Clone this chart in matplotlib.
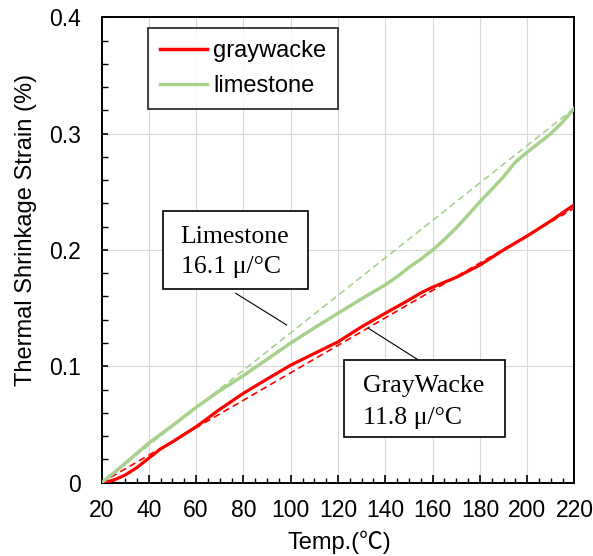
import matplotlib
matplotlib.use("Agg")
import matplotlib.pyplot as plt
from matplotlib.patches import Rectangle
from matplotlib.ticker import MultipleLocator

# ---- data ----
temp_gray = [20, 25, 30, 35, 40, 45, 50, 60, 70, 80, 90, 100, 110, 120, 130, 140,
             150, 155, 160, 170, 180, 190, 200, 210, 220]
strain_gray = [0, 0.002, 0.0065, 0.013, 0.021, 0.029, 0.035, 0.048, 0.063, 0.0768,
               0.089, 0.101, 0.111, 0.121, 0.134, 0.1456, 0.157, 0.163, 0.168,
               0.1765, 0.187, 0.200, 0.212, 0.225, 0.239]

temp_lime = [20, 25, 30, 40, 50, 60, 70, 80, 90, 100, 110, 120, 130, 140, 145, 150,
             155, 160, 165, 170, 175, 180, 185, 190, 195, 200, 205, 210, 215, 220]
strain_lime = [0, 0.008, 0.0166, 0.034, 0.049, 0.0647, 0.079, 0.092, 0.106, 0.120,
               0.133, 0.1456, 0.158, 0.170, 0.177, 0.185, 0.192, 0.200, 0.209,
               0.219, 0.230, 0.2415, 0.252, 0.263, 0.2755, 0.284, 0.292, 0.300,
               0.310, 0.322]

fit_temp = [20, 220]
fit_gray = [0, 0.236]
fit_lime = [0, 0.322]

series_labels = ["graywacke", "limestone"]
x_ticks = [20, 40, 60, 80, 100, 120, 140, 160, 180, 200, 220]
y_ticks = [0, 0.1, 0.2, 0.3, 0.4]
y_ticklabels = ["0", "0.1", "0.2", "0.3", "0.4"]

RED = "#FF0000"
GREEN = "#A9D18E"
SANS = ["Liberation Sans", "DejaVu Sans"]
SERIF = ["Liberation Serif", "DejaVu Serif"]

plt.rcParams["font.family"] = SANS

fig = plt.figure(figsize=(5.93, 5.56), dpi=100)
ax = fig.add_axes([0.1712, 0.132, 0.7976, 0.8369])

ax.set_xlim(20, 220)
ax.set_ylim(0, 0.4)

ax.grid(True, which="major", color="#D9D9D9", linewidth=0.8, zorder=0)
ax.set_axisbelow(True)

ax.plot(fit_temp, fit_gray, color=RED, linewidth=1.2, dashes=(4, 2.5), zorder=3)
ax.plot(fit_temp, fit_lime, color=GREEN, linewidth=1.2, dashes=(4, 2.5), zorder=3)
l1, = ax.plot(temp_gray, strain_gray, color=RED, linewidth=2.3, label=series_labels[0], zorder=4)
l2, = ax.plot(temp_lime, strain_lime, color=GREEN, linewidth=2.5, label=series_labels[1], zorder=4)

ax.set_xticks(x_ticks)
ax.set_yticks(y_ticks)
ax.set_yticklabels(y_ticklabels)
ax.xaxis.set_minor_locator(MultipleLocator(5))
ax.yaxis.set_minor_locator(MultipleLocator(0.02))
ax.tick_params(axis="x", which="major", direction="in", length=6, width=1.2,
               labelsize=16.5, pad=12, top=False)
ax.tick_params(axis="x", which="minor", direction="in", length=3.5, width=1.0, top=False)
ax.tick_params(axis="y", which="major", direction="in", length=4, width=1.2,
               labelsize=16.5, pad=15, right=False)
ax.tick_params(axis="y", which="minor", direction="in", length=4, width=1.0, right=False)
for s in ax.spines.values():
    s.set_linewidth(1.4)
    s.set_color("black")

ax.set_xlabel("Temp.(℃)", fontsize=17, family=["Liberation Sans", "Noto Sans CJK JP", "DejaVu Sans"])
ax.xaxis.set_label_coords(0.502, -0.104)
ax.set_ylabel("Thermal Shrinkage Strain (%)", fontsize=17)
ax.yaxis.set_label_coords(-0.137, 0.543)

leg = ax.legend(handles=[l1, l2], loc="upper left", bbox_to_anchor=(0.099, 0.9764),
                borderaxespad=0, fontsize=17, frameon=True, fancybox=False,
                edgecolor="black", handlelength=2.0, handletextpad=0.25,
                labelspacing=0.55, borderpad=0.5)
leg.get_frame().set_linewidth(1.3)
for h in leg.get_lines():
    h.set_linewidth(2.5)

# annotation boxes
ax.add_patch(Rectangle((45.9, 0.1665), 107.4 - 45.9, 0.2338 - 0.1665, facecolor="white",
                       edgecolor="black", linewidth=1.2, zorder=6))
ax.text(53.5, 0.2114, "Limestone", family=SERIF, fontsize=18.5, va="center", ha="left", zorder=7)
ax.text(53.5, 0.1856, "16.1 μ/°C", family=SERIF, fontsize=18.5, va="center", ha="left", zorder=7)
ax.plot([76.7, 98.3], [0.1628, 0.1355], color="black", linewidth=0.8, zorder=6)

ax.add_patch(Rectangle((122.7, 0.0389), 190.5 - 122.7, 0.1054 - 0.0389, facecolor="white",
                       edgecolor="black", linewidth=1.2, zorder=6))
ax.text(130.7, 0.0831, "GrayWacke", family=SERIF, fontsize=18.5, va="center", ha="left", zorder=7)
ax.text(130.7, 0.0553, "11.8 μ/°C", family=SERIF, fontsize=18.5, va="center", ha="left", zorder=7)
ax.plot([132.8, 154.0], [0.1327, 0.1054], color="black", linewidth=0.8, zorder=6)

fig.savefig("out.png", dpi=100)
